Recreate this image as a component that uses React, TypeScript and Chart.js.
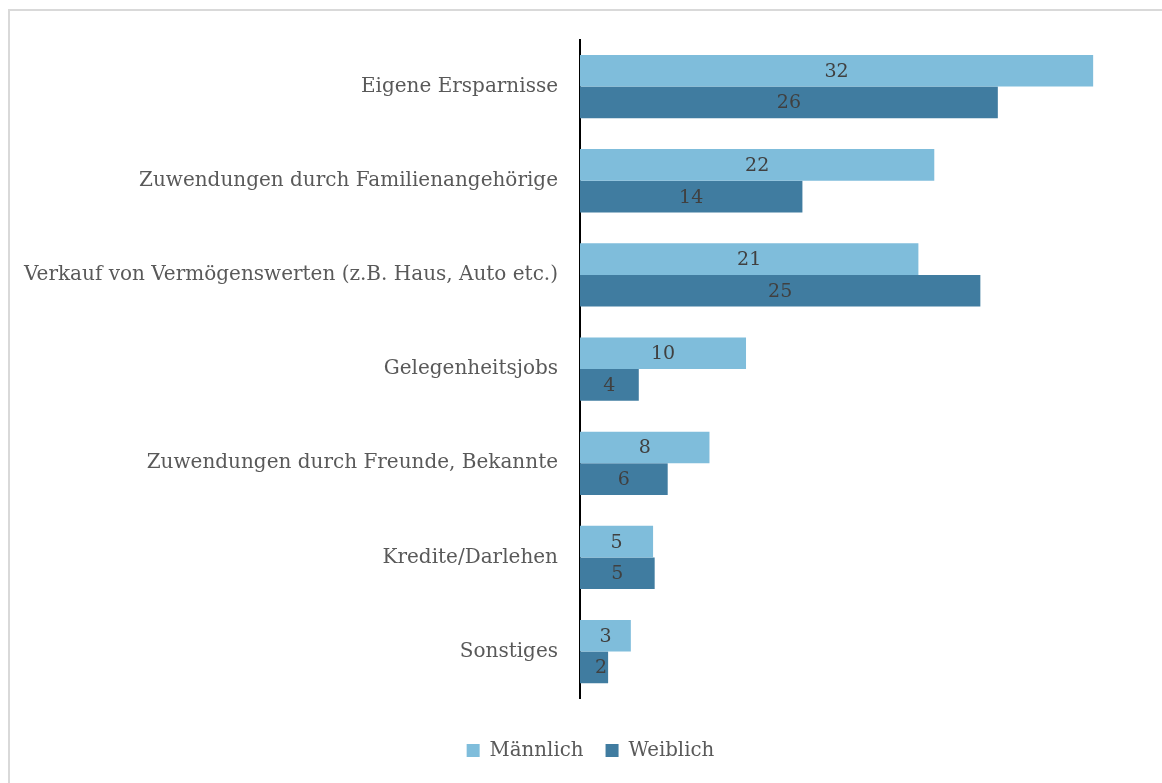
import React, { useEffect, useRef } from "react";
import { Chart, registerables } from "chart.js";

Chart.register(...registerables);

const categories = [
  "Eigene Ersparnisse",
  "Zuwendungen durch Familienangehörige",
  "Verkauf von Vermögenswerten (z.B. Haus, Auto etc.)",
  "Gelegenheitsjobs",
  "Zuwendungen durch Freunde, Bekannte",
  "Kredite/Darlehen",
  "Sonstiges",
];
const seriesNames = ["Männlich", "Weiblich"];
const maleValues = [32.3, 22.3, 21.3, 10.45, 8.15, 4.6, 3.2];
const femaleValues = [26.3, 14.0, 25.2, 3.7, 5.52, 4.7, 1.77];
const xMax = 37.2;

const FONT = "'DejaVu Serif', serif";

const valueLabels = {
  id: "valueLabels",
  afterDatasetsDraw(chart: any) {
    const ctx = chart.ctx;
    ctx.save();
    ctx.font = `19px ${FONT}`;
    ctx.fillStyle = "#404040";
    ctx.textAlign = "center";
    ctx.textBaseline = "middle";
    chart.data.datasets.forEach((ds: any, i: number) => {
      const meta = chart.getDatasetMeta(i);
      meta.data.forEach((bar: any, j: number) => {
        const p = bar.getProps(["x", "y", "base"], true);
        const cx = Math.max((p.x + p.base) / 2, p.base + 21);
        ctx.fillText(String(Math.round(ds.data[j])), cx, p.y + 1);
      });
    });
    ctx.restore();
  },
};

export default function App() {
  const ref = useRef<HTMLCanvasElement>(null);
  useEffect(() => {
    if (!ref.current) return;
    const chart = new Chart(ref.current, {
      type: "bar",
      data: {
        labels: categories,
        datasets: [
          {
            label: seriesNames[0],
            data: maleValues,
            backgroundColor: "#7FBDDB",
            categoryPercentage: 0.672,
            barPercentage: 1,
          },
          {
            label: seriesNames[1],
            data: femaleValues,
            backgroundColor: "#407CA0",
            categoryPercentage: 0.672,
            barPercentage: 1,
          },
        ],
      },
      options: {
        indexAxis: "y",
        animation: false,
        responsive: false,
        devicePixelRatio: 1,
        layout: { padding: { left: 10, right: 4, top: 39.5, bottom: 12.5 } },
        scales: {
          x: { display: false, min: 0, max: xMax },
          y: {
            grid: { display: false, drawTicks: false },
            border: { display: true, color: "#000000", width: 2 },
            ticks: { color: "#595959", font: { family: FONT, size: 20 }, padding: 22 },
            afterFit(scale: any) {
              scale.width = 570;
            },
          },
        },
        plugins: {
          legend: {
            position: "bottom",
            title: { display: true, text: "", font: { size: 10, lineHeight: 1 }, padding: { top: 10, bottom: 0 } },
            labels: {
              boxWidth: 13,
              boxHeight: 13,
              padding: 22,
              color: "#595959",
              font: { family: FONT, size: 19.8 },
            },
          },
          tooltip: { enabled: false },
        },
      },
      plugins: [valueLabels],
    } as any);
    return () => chart.destroy();
  }, []);

  return (
    <div style={{ position: "absolute", left: 0, top: 0, width: 1162, height: 783, overflow: "hidden" }}>
      <div
        style={{
          position: "absolute",
          left: 8,
          top: 9,
          width: 1154,
          height: 774,
          boxSizing: "border-box",
          borderTop: "2px solid #d9d9d9",
          borderLeft: "2px solid #d9d9d9",
        }}
      />
      <canvas
        ref={ref}
        width={1175}
        height={783}
        style={{ position: "absolute", left: 0, top: 0, width: 1175, height: 783 }}
      />
    </div>
  );
}
